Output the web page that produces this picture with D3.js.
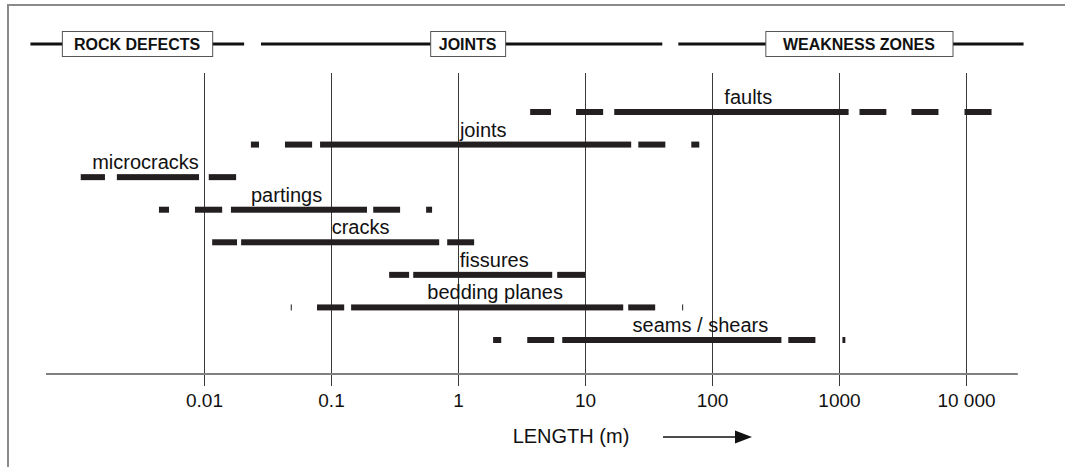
<!DOCTYPE html>
<html>
<head>
<meta charset="utf-8">
<script src="https://cdn.jsdelivr.net/npm/d3@7"></script>
<style>
  body { margin: 0; background: #fff; }
  svg { display: block; font-family: "Liberation Sans", Arial, sans-serif; }
</style>
</head>
<body>
<div id="viz-container"></div>
<script>
// discontinuity types and the length ranges (m) they cover, dashed pieces = less common
let rowNames = ["faults", "joints", "microcracks", "partings", "cracks", "fissures", "bedding planes", "seams / shears"];
let rowSegments = [
    [[3.7, 5.4], [8.5, 13.9], [17, 1190], [1450, 2360], [3720, 6070], [9730, 15900]],
    [[0.0234, 0.0271], [0.0434, 0.071], [0.082, 23.1], [26.3, 42.9], [68.7, 79.4]],
    [[0.00107, 0.00166], [0.00206, 0.00914], [0.0109, 0.0179]],
    [[0.00442, 0.0053], [0.00849, 0.0139], [0.0163, 0.192], [0.215, 0.35], [0.561, 0.625]],
    [[0.0116, 0.0182], [0.0196, 0.711], [0.822, 1.34]],
    [[0.287, 0.412], [0.444, 5.52], [6.04, 10]],
    [[0.0482, 0.0491], [0.0776, 0.127], [0.144, 20], [21.9, 35.7], [58.2, 59.1]],
    [[1.89, 2.19], [3.51, 5.72], [6.62, 352], [399, 652], [1064, 1122]]
];
// where each name sits along the length axis (m)
let labelAt = [193, 1.58, 0.00346, 0.0447, 0.171, 1.93, 1.96, 81];

let tickValues = [0.01, 0.1, 1, 10, 100, 1000, 10000];
let tickLabels = ["0.01", "0.1", "1", "10", "100", "1000", "10 000"];

// header bands
let groupNames = ["ROCK DEFECTS", "JOINTS", "WEAKNESS ZONES"];
let groupLines = [[0.00043, 0.0207], [0.0281, 40.6], [54.3, 28400]];
let groupBoxes = [[0.00076, 0.0116], [0.604, 2.35], [263, 7830]];
let axisExtent = [0.00057, 25600];

let w = 1065, h = 467;
let viz = d3.select("#viz-container")
    .append("svg")
    .attr("width", w)
    .attr("height", h);

let xScale = d3.scaleLog().domain([0.01, 10000]).range([204, 966]);
let yScale = d3.scalePoint().domain(rowNames).range([112, 340]);

// frame (left + top only)
viz.append("path")
    .attr("d", "M8,467 V5 H1065")
    .attr("fill", "none")
    .attr("stroke", "#8a8a8a")
    .attr("stroke-width", 2);

// gridlines + tick labels from the axis
let axisY = 386;
let xAxis = d3.axisBottom(xScale)
    .tickValues(tickValues)
    .tickFormat((d, i) => tickLabels[i])
    .tickSize(-(axisY - 73))
    .tickPadding(8);
let xAxisGroup = viz.append("g")
    .attr("transform", "translate(0," + axisY + ")")
    .call(xAxis);
xAxisGroup.select(".domain").remove();
xAxisGroup.selectAll(".tick line").attr("stroke", "#3a3a3a").attr("stroke-width", 1);
xAxisGroup.selectAll(".tick text")
    .attr("fill", "#111")
    .style("font-size", "19px")
    .style("font-family", "'Liberation Sans', Arial, sans-serif");

// gray baseline
viz.append("line")
    .attr("x1", xScale(axisExtent[0]))
    .attr("x2", xScale(axisExtent[1]))
    .attr("y1", 374).attr("y2", 374)
    .attr("stroke", "#808080")
    .attr("stroke-width", 2);

// header lines and boxes
viz.selectAll(".gline").data(groupLines).enter()
    .append("line")
    .attr("class", "gline")
    .attr("x1", d => xScale(d[0]))
    .attr("x2", d => xScale(d[1]))
    .attr("y1", 44).attr("y2", 44)
    .attr("stroke", "#111")
    .attr("stroke-width", 3);

let boxes = viz.selectAll(".gbox").data(groupBoxes).enter()
    .append("g").attr("class", "gbox");
boxes.append("rect")
    .attr("x", d => xScale(d[0]) + 0.5)
    .attr("y", 31.5)
    .attr("width", d => xScale(d[1]) - xScale(d[0]))
    .attr("height", 25)
    .attr("fill", "#fff")
    .attr("stroke", "#555")
    .attr("stroke-width", 1);
boxes.append("text")
    .attr("x", d => (xScale(d[0]) + xScale(d[1])) / 2)
    .attr("y", 50)
    .attr("text-anchor", "middle")
    .attr("font-weight", "bold")
    .attr("font-size", 16)
    .attr("fill", "#111")
    .text((d, i) => groupNames[i]);

// bars
let rows = viz.selectAll(".row").data(rowNames).enter()
    .append("g").attr("class", "row");
rows.selectAll("rect")
    .data((d, i) => rowSegments[i].map(s => ({name: d, lo: s[0], hi: s[1]})))
    .enter()
    .append("rect")
    .attr("x", d => xScale(d.lo))
    .attr("width", d => Math.max(1, xScale(d.hi) - xScale(d.lo)))
    .attr("y", d => yScale(d.name) - 3)
    .attr("height", 6)
    .attr("fill", "#231f20");

rows.append("text")
    .attr("x", (d, i) => xScale(labelAt[i]))
    .attr("y", d => yScale(d) - 8)
    .attr("text-anchor", "middle")
    .attr("font-size", 20)
    .attr("fill", "#111")
    .text(d => d);

// axis title with arrow
viz.append("text")
    .attr("x", 571)
    .attr("y", 443)
    .attr("text-anchor", "middle")
    .attr("font-size", 20)
    .attr("fill", "#111")
    .text("LENGTH (m)");
viz.append("line")
    .attr("x1", 663).attr("x2", 738)
    .attr("y1", 437).attr("y2", 437)
    .attr("stroke", "#111")
    .attr("stroke-width", 1.5);
viz.append("path")
    .attr("d", "M735,430.5 L752,437 L735,443.5 Z")
    .attr("fill", "#111");
</script>
</body>
</html>
